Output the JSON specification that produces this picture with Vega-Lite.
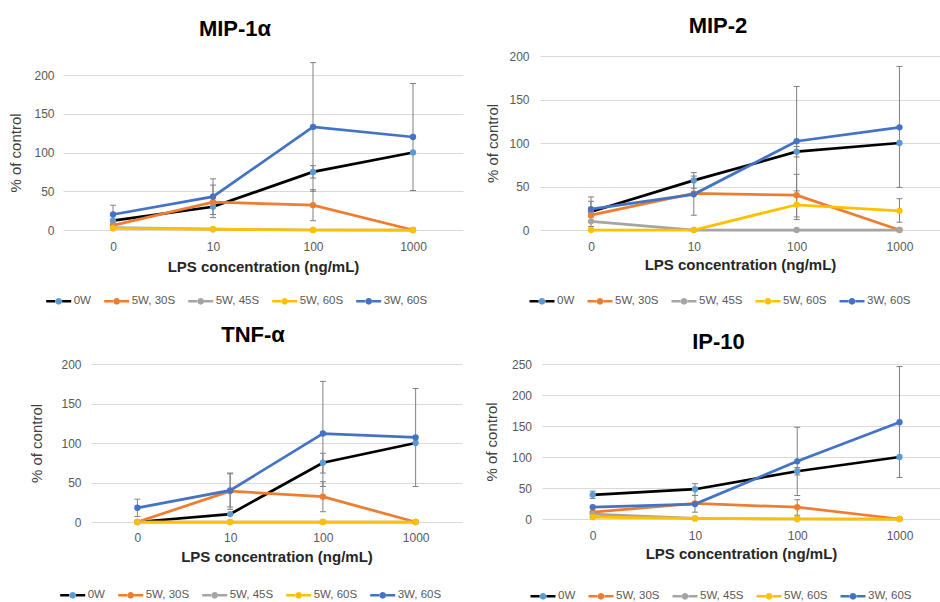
{
  "$schema": "https://vega.github.io/schema/vega-lite/v6.json",
  "padding": 0,
  "background": "white",
  "config": {
    "font": "Liberation Sans",
    "view": {"stroke": null},
    "title": {"font": "Liberation Sans", "fontSize": 22, "fontWeight": "bold", "color": "#000000", "anchor": "middle", "frame": "group"},
    "axis": {"labelFont": "Liberation Sans", "titleFont": "Liberation Sans", "labelFontSize": 12, "labelColor": "#595959", "ticks": false, "domain": false, "labelOverlap": false},
    "axisX": {"grid": false, "labelAngle": 0, "titleFontSize": 15, "titleFontWeight": "bold", "titleColor": "#262626"},
    "axisY": {"grid": true, "gridColor": "#d9d9d9", "gridWidth": 1, "titleFontSize": 15, "titleFontWeight": "normal", "titleColor": "#404040"},
    "legend": {"orient": "none", "direction": "horizontal", "padding": 0, "columnPadding": 7, "labelOffset": 1, "labelFont": "Liberation Sans", "labelFontSize": 11.5, "labelColor": "#595959", "symbolSize": 625, "symbolStrokeWidth": 2.5, "symbolOpacity": 1}
  },
  "datasets": {
    "cytokines": [
      {"panel": "MIP-1α", "dose": "0", "series": "0W", "value": 12},
      {"panel": "MIP-1α", "dose": "10", "series": "0W", "value": 30},
      {"panel": "MIP-1α", "dose": "100", "series": "0W", "value": 75, "lo": 67, "hi": 83},
      {"panel": "MIP-1α", "dose": "1000", "series": "0W", "value": 100},
      {"panel": "MIP-1α", "dose": "0", "series": "5W, 30S", "value": 6},
      {"panel": "MIP-1α", "dose": "10", "series": "5W, 30S", "value": 36, "lo": 16, "hi": 58},
      {"panel": "MIP-1α", "dose": "100", "series": "5W, 30S", "value": 32, "lo": 12, "hi": 52},
      {"panel": "MIP-1α", "dose": "1000", "series": "5W, 30S", "value": 0},
      {"panel": "MIP-1α", "dose": "0", "series": "5W, 45S", "value": 3},
      {"panel": "MIP-1α", "dose": "10", "series": "5W, 45S", "value": 1},
      {"panel": "MIP-1α", "dose": "100", "series": "5W, 45S", "value": 0},
      {"panel": "MIP-1α", "dose": "1000", "series": "5W, 45S", "value": 0},
      {"panel": "MIP-1α", "dose": "0", "series": "5W, 60S", "value": 2},
      {"panel": "MIP-1α", "dose": "10", "series": "5W, 60S", "value": 1},
      {"panel": "MIP-1α", "dose": "100", "series": "5W, 60S", "value": 0},
      {"panel": "MIP-1α", "dose": "1000", "series": "5W, 60S", "value": 0},
      {"panel": "MIP-1α", "dose": "0", "series": "3W, 60S", "value": 20, "lo": 8, "hi": 32},
      {"panel": "MIP-1α", "dose": "10", "series": "3W, 60S", "value": 43, "lo": 20, "hi": 66},
      {"panel": "MIP-1α", "dose": "100", "series": "3W, 60S", "value": 133, "lo": 50, "hi": 216},
      {"panel": "MIP-1α", "dose": "1000", "series": "3W, 60S", "value": 120, "lo": 51, "hi": 189},

      {"panel": "MIP-2", "dose": "0", "series": "0W", "value": 21, "lo": 4, "hi": 38},
      {"panel": "MIP-2", "dose": "10", "series": "0W", "value": 57, "lo": 48, "hi": 66},
      {"panel": "MIP-2", "dose": "100", "series": "0W", "value": 90, "lo": 84, "hi": 96},
      {"panel": "MIP-2", "dose": "1000", "series": "0W", "value": 100},
      {"panel": "MIP-2", "dose": "0", "series": "5W, 30S", "value": 17},
      {"panel": "MIP-2", "dose": "10", "series": "5W, 30S", "value": 42},
      {"panel": "MIP-2", "dose": "100", "series": "5W, 30S", "value": 40, "lo": 15, "hi": 64},
      {"panel": "MIP-2", "dose": "1000", "series": "5W, 30S", "value": 0},
      {"panel": "MIP-2", "dose": "0", "series": "5W, 45S", "value": 10},
      {"panel": "MIP-2", "dose": "10", "series": "5W, 45S", "value": 0},
      {"panel": "MIP-2", "dose": "100", "series": "5W, 45S", "value": 0},
      {"panel": "MIP-2", "dose": "1000", "series": "5W, 45S", "value": 0},
      {"panel": "MIP-2", "dose": "0", "series": "5W, 60S", "value": 0},
      {"panel": "MIP-2", "dose": "10", "series": "5W, 60S", "value": 0},
      {"panel": "MIP-2", "dose": "100", "series": "5W, 60S", "value": 29, "lo": 12, "hi": 45},
      {"panel": "MIP-2", "dose": "1000", "series": "5W, 60S", "value": 22, "lo": 9, "hi": 36},
      {"panel": "MIP-2", "dose": "0", "series": "3W, 60S", "value": 24, "lo": 15, "hi": 33},
      {"panel": "MIP-2", "dose": "10", "series": "3W, 60S", "value": 41, "lo": 17, "hi": 62},
      {"panel": "MIP-2", "dose": "100", "series": "3W, 60S", "value": 102, "lo": 40, "hi": 165},
      {"panel": "MIP-2", "dose": "1000", "series": "3W, 60S", "value": 118, "lo": 49, "hi": 188},

      {"panel": "TNF-α", "dose": "0", "series": "0W", "value": 0},
      {"panel": "TNF-α", "dose": "10", "series": "0W", "value": 10},
      {"panel": "TNF-α", "dose": "100", "series": "0W", "value": 75, "lo": 62, "hi": 87},
      {"panel": "TNF-α", "dose": "1000", "series": "0W", "value": 100},
      {"panel": "TNF-α", "dose": "0", "series": "5W, 30S", "value": 0},
      {"panel": "TNF-α", "dose": "10", "series": "5W, 30S", "value": 39, "lo": 16, "hi": 62},
      {"panel": "TNF-α", "dose": "100", "series": "5W, 30S", "value": 32, "lo": 13, "hi": 51},
      {"panel": "TNF-α", "dose": "1000", "series": "5W, 30S", "value": 0},
      {"panel": "TNF-α", "dose": "0", "series": "5W, 45S", "value": 0},
      {"panel": "TNF-α", "dose": "10", "series": "5W, 45S", "value": 0},
      {"panel": "TNF-α", "dose": "100", "series": "5W, 45S", "value": 0},
      {"panel": "TNF-α", "dose": "1000", "series": "5W, 45S", "value": 0},
      {"panel": "TNF-α", "dose": "0", "series": "5W, 60S", "value": 0},
      {"panel": "TNF-α", "dose": "10", "series": "5W, 60S", "value": 0},
      {"panel": "TNF-α", "dose": "100", "series": "5W, 60S", "value": 0},
      {"panel": "TNF-α", "dose": "1000", "series": "5W, 60S", "value": 0},
      {"panel": "TNF-α", "dose": "0", "series": "3W, 60S", "value": 18, "lo": 7, "hi": 29},
      {"panel": "TNF-α", "dose": "10", "series": "3W, 60S", "value": 40, "lo": 19, "hi": 61},
      {"panel": "TNF-α", "dose": "100", "series": "3W, 60S", "value": 112, "lo": 45, "hi": 178},
      {"panel": "TNF-α", "dose": "1000", "series": "3W, 60S", "value": 107, "lo": 45, "hi": 169},

      {"panel": "IP-10", "dose": "0", "series": "0W", "value": 39, "lo": 33, "hi": 45},
      {"panel": "IP-10", "dose": "10", "series": "0W", "value": 48, "lo": 38, "hi": 57},
      {"panel": "IP-10", "dose": "100", "series": "0W", "value": 77, "lo": 71, "hi": 83},
      {"panel": "IP-10", "dose": "1000", "series": "0W", "value": 100},
      {"panel": "IP-10", "dose": "0", "series": "5W, 30S", "value": 11},
      {"panel": "IP-10", "dose": "10", "series": "5W, 30S", "value": 25},
      {"panel": "IP-10", "dose": "100", "series": "5W, 30S", "value": 19, "lo": 6, "hi": 31},
      {"panel": "IP-10", "dose": "1000", "series": "5W, 30S", "value": 0},
      {"panel": "IP-10", "dose": "0", "series": "5W, 45S", "value": 8},
      {"panel": "IP-10", "dose": "10", "series": "5W, 45S", "value": 1},
      {"panel": "IP-10", "dose": "100", "series": "5W, 45S", "value": 0},
      {"panel": "IP-10", "dose": "1000", "series": "5W, 45S", "value": 0},
      {"panel": "IP-10", "dose": "0", "series": "5W, 60S", "value": 3},
      {"panel": "IP-10", "dose": "10", "series": "5W, 60S", "value": 1},
      {"panel": "IP-10", "dose": "100", "series": "5W, 60S", "value": 0},
      {"panel": "IP-10", "dose": "1000", "series": "5W, 60S", "value": 0},
      {"panel": "IP-10", "dose": "0", "series": "3W, 60S", "value": 19},
      {"panel": "IP-10", "dose": "10", "series": "3W, 60S", "value": 24, "lo": 11, "hi": 38},
      {"panel": "IP-10", "dose": "100", "series": "3W, 60S", "value": 93, "lo": 38, "hi": 148},
      {"panel": "IP-10", "dose": "1000", "series": "3W, 60S", "value": 156, "lo": 67, "hi": 246}
    ]
  },
  "data": {"name": "cytokines"},
  "spacing": 0,
  "resolve": {"scale": {"stroke": "independent", "fill": "independent"}},
  "vconcat": [
    {
      "spacing": 0,
      "resolve": {"scale": {"stroke": "independent", "fill": "independent"}},
      "hconcat": [
        {"width": 8, "height": 1, "data": {"values": []}, "mark": {"type": "point", "opacity": 0}},
        {
          "spacing": 0,
          "resolve": {"scale": {"stroke": "independent", "fill": "independent"}},
          "vconcat": [
            {"width": 1, "height": 17, "data": {"values": []}, "mark": {"type": "point", "opacity": 0}},
            {
              "width": 400,
              "height": 155,
              "title": {"text": "MIP-1α", "dx": -28, "offset": 21.2},
              "transform": [{"filter": {"field": "panel", "equal": "MIP-1α"}}],
              "encoding": {
                "x": {"field": "dose", "type": "ordinal", "sort": ["0", "10", "100", "1000"], "scale": {"type": "point", "padding": 0.5}, "axis": {"title": "LPS concentration (ng/mL)", "labelPadding": 11.5, "titlePadding": 6.7}}
              },
              "layer": [
                {
                  "mark": {"type": "line", "strokeWidth": 2.75},
                  "encoding": {
                    "y": {"field": "value", "type": "quantitative", "scale": {"domain": [0, 200], "nice": false}, "axis": {"title": "% of control", "values": [0, 50, 100, 150, 200], "labelPadding": 9, "titlePadding": 10}},
                    "stroke": {"field": "series", "type": "nominal", "scale": {"domain": ["0W", "5W, 30S", "5W, 45S", "5W, 60S", "3W, 60S"], "range": ["#000000", "#ED7D31", "#A5A5A5", "#FFC000", "#4472C4"]}, "legend": {"title": null, "orient": "none", "legendX": -18.3, "legendY": 212, "symbolType": "M-1,0H-0.27M0.27,0H1"}}
                  }
                },
                {
                  "mark": {"type": "rule", "color": "#808080", "strokeWidth": 1},
                  "encoding": {"y": {"field": "lo", "type": "quantitative", "scale": {"domain": [0, 200], "nice": false}, "axis": {"title": "% of control", "values": [0, 50, 100, 150, 200], "labelPadding": 9, "titlePadding": 10}}, "y2": {"field": "hi"}}
                },
                {
                  "mark": {"type": "tick", "color": "#808080", "size": 6, "thickness": 1, "opacity": 1},
                  "encoding": {"y": {"field": "lo", "type": "quantitative", "scale": {"domain": [0, 200], "nice": false}, "axis": {"title": "% of control", "values": [0, 50, 100, 150, 200], "labelPadding": 9, "titlePadding": 10}}}
                },
                {
                  "mark": {"type": "tick", "color": "#808080", "size": 6, "thickness": 1, "opacity": 1},
                  "encoding": {"y": {"field": "hi", "type": "quantitative", "scale": {"domain": [0, 200], "nice": false}, "axis": {"title": "% of control", "values": [0, 50, 100, 150, 200], "labelPadding": 9, "titlePadding": 10}}}
                },
                {
                  "mark": {"type": "point", "filled": true, "size": 40, "opacity": 1},
                  "encoding": {
                    "y": {"field": "value", "type": "quantitative", "scale": {"domain": [0, 200], "nice": false}, "axis": {"title": "% of control", "values": [0, 50, 100, 150, 200], "labelPadding": 9, "titlePadding": 10}},
                    "fill": {"field": "series", "type": "nominal", "sort": null, "scale": {"range": ["#5B9BD5", "#ED7D31", "#A5A5A5", "#FFC000", "#4472C4"]}, "legend": {"title": null, "orient": "none", "legendX": -18.3, "legendY": 212, "labelOpacity": 0, "symbolStrokeColor": "transparent", "symbolType": "M-1,0H1M0.27,0A0.27,0.27,0,1,1,-0.27,0A0.27,0.27,0,1,1,0.27,0Z"}}
                  }
                }
              ]
            }
          ]
        },
        {"width": 22, "height": 1, "data": {"values": []}, "mark": {"type": "point", "opacity": 0}},
        {
          "spacing": 0,
          "resolve": {"scale": {"stroke": "independent", "fill": "independent"}},
          "vconcat": [
            {"width": 1, "height": 14, "data": {"values": []}, "mark": {"type": "point", "opacity": 0}},
            {
              "width": 400,
              "height": 174,
              "title": {"text": "MIP-2", "dx": -22, "offset": 12.3},
              "transform": [{"filter": {"field": "panel", "equal": "MIP-2"}}],
              "encoding": {
                "x": {"field": "dose", "type": "ordinal", "sort": ["0", "10", "100", "1000"], "scale": {"type": "point", "padding": 0.445, "align": 0.557}, "axis": {"title": "LPS concentration (ng/mL)", "labelPadding": 11.5, "titlePadding": 5}}
              },
              "layer": [
                {
                  "mark": {"type": "line", "strokeWidth": 2.75},
                  "encoding": {
                    "y": {"field": "value", "type": "quantitative", "scale": {"domain": [0, 200], "nice": false}, "axis": {"title": "% of control", "values": [0, 50, 100, 150, 200], "labelPadding": 11, "titlePadding": 8}},
                    "stroke": {"field": "series", "type": "nominal", "scale": {"domain": ["0W", "5W, 30S", "5W, 45S", "5W, 60S", "3W, 60S"], "range": ["#000000", "#ED7D31", "#A5A5A5", "#FFC000", "#4472C4"]}, "legend": {"title": null, "orient": "none", "legendX": -12, "legendY": 231, "symbolType": "M-1,0H-0.27M0.27,0H1"}}
                  }
                },
                {
                  "mark": {"type": "rule", "color": "#808080", "strokeWidth": 1},
                  "encoding": {"y": {"field": "lo", "type": "quantitative", "scale": {"domain": [0, 200], "nice": false}, "axis": {"title": "% of control", "values": [0, 50, 100, 150, 200], "labelPadding": 11, "titlePadding": 8}}, "y2": {"field": "hi"}}
                },
                {
                  "mark": {"type": "tick", "color": "#808080", "size": 6, "thickness": 1, "opacity": 1},
                  "encoding": {"y": {"field": "lo", "type": "quantitative", "scale": {"domain": [0, 200], "nice": false}, "axis": {"title": "% of control", "values": [0, 50, 100, 150, 200], "labelPadding": 11, "titlePadding": 8}}}
                },
                {
                  "mark": {"type": "tick", "color": "#808080", "size": 6, "thickness": 1, "opacity": 1},
                  "encoding": {"y": {"field": "hi", "type": "quantitative", "scale": {"domain": [0, 200], "nice": false}, "axis": {"title": "% of control", "values": [0, 50, 100, 150, 200], "labelPadding": 11, "titlePadding": 8}}}
                },
                {
                  "mark": {"type": "point", "filled": true, "size": 40, "opacity": 1},
                  "encoding": {
                    "y": {"field": "value", "type": "quantitative", "scale": {"domain": [0, 200], "nice": false}, "axis": {"title": "% of control", "values": [0, 50, 100, 150, 200], "labelPadding": 11, "titlePadding": 8}},
                    "fill": {"field": "series", "type": "nominal", "sort": null, "scale": {"range": ["#5B9BD5", "#ED7D31", "#A5A5A5", "#FFC000", "#4472C4"]}, "legend": {"title": null, "orient": "none", "legendX": -12, "legendY": 231, "labelOpacity": 0, "symbolStrokeColor": "transparent", "symbolType": "M-1,0H1M0.27,0A0.27,0.27,0,1,1,-0.27,0A0.27,0.27,0,1,1,0.27,0Z"}}
                  }
                }
              ]
            }
          ]
        }
      ]
    },
    {"width": 1, "height": 3, "data": {"values": []}, "mark": {"type": "point", "opacity": 0}},
    {
      "spacing": 0,
      "resolve": {"scale": {"stroke": "independent", "fill": "independent"}},
      "hconcat": [
        {"width": 29, "height": 1, "data": {"values": []}, "mark": {"type": "point", "opacity": 0}},
        {
          "spacing": 0,
          "resolve": {"scale": {"stroke": "independent", "fill": "independent"}},
          "vconcat": [
            {"width": 1, "height": 10, "data": {"values": []}, "mark": {"type": "point", "opacity": 0}},
            {
              "width": 371,
              "height": 158,
              "title": {"text": "TNF-α", "dx": -23.5, "offset": 11.5},
              "transform": [{"filter": {"field": "panel", "equal": "TNF-α"}}],
              "encoding": {
                "x": {"field": "dose", "type": "ordinal", "sort": ["0", "10", "100", "1000"], "scale": {"type": "point", "padding": 0.5}, "axis": {"title": "LPS concentration (ng/mL)", "labelPadding": 10.8, "titlePadding": 5.4}}
              },
              "layer": [
                {
                  "mark": {"type": "line", "strokeWidth": 2.75},
                  "encoding": {
                    "y": {"field": "value", "type": "quantitative", "scale": {"domain": [0, 200], "nice": false}, "axis": {"title": "% of control", "values": [0, 50, 100, 150, 200], "labelPadding": 10, "titlePadding": 16.6}},
                    "stroke": {"field": "series", "type": "nominal", "scale": {"domain": ["0W", "5W, 30S", "5W, 45S", "5W, 60S", "3W, 60S"], "range": ["#000000", "#ED7D31", "#A5A5A5", "#FFC000", "#4472C4"]}, "legend": {"title": null, "orient": "none", "legendX": -32.3, "legendY": 217, "symbolType": "M-1,0H-0.27M0.27,0H1"}}
                  }
                },
                {
                  "mark": {"type": "rule", "color": "#808080", "strokeWidth": 1},
                  "encoding": {"y": {"field": "lo", "type": "quantitative", "scale": {"domain": [0, 200], "nice": false}, "axis": {"title": "% of control", "values": [0, 50, 100, 150, 200], "labelPadding": 10, "titlePadding": 16.6}}, "y2": {"field": "hi"}}
                },
                {
                  "mark": {"type": "tick", "color": "#808080", "size": 6, "thickness": 1, "opacity": 1},
                  "encoding": {"y": {"field": "lo", "type": "quantitative", "scale": {"domain": [0, 200], "nice": false}, "axis": {"title": "% of control", "values": [0, 50, 100, 150, 200], "labelPadding": 10, "titlePadding": 16.6}}}
                },
                {
                  "mark": {"type": "tick", "color": "#808080", "size": 6, "thickness": 1, "opacity": 1},
                  "encoding": {"y": {"field": "hi", "type": "quantitative", "scale": {"domain": [0, 200], "nice": false}, "axis": {"title": "% of control", "values": [0, 50, 100, 150, 200], "labelPadding": 10, "titlePadding": 16.6}}}
                },
                {
                  "mark": {"type": "point", "filled": true, "size": 40, "opacity": 1},
                  "encoding": {
                    "y": {"field": "value", "type": "quantitative", "scale": {"domain": [0, 200], "nice": false}, "axis": {"title": "% of control", "values": [0, 50, 100, 150, 200], "labelPadding": 10, "titlePadding": 16.6}},
                    "fill": {"field": "series", "type": "nominal", "sort": null, "scale": {"range": ["#5B9BD5", "#ED7D31", "#A5A5A5", "#FFC000", "#4472C4"]}, "legend": {"title": null, "orient": "none", "legendX": -32.3, "legendY": 217, "labelOpacity": 0, "symbolStrokeColor": "transparent", "symbolType": "M-1,0H1M0.27,0A0.27,0.27,0,1,1,-0.27,0A0.27,0.27,0,1,1,0.27,0Z"}}
                  }
                }
              ]
            }
          ]
        },
        {"width": 22, "height": 1, "data": {"values": []}, "mark": {"type": "point", "opacity": 0}},
        {
          "spacing": 0,
          "resolve": {"scale": {"stroke": "independent", "fill": "independent"}},
          "vconcat": [
            {"width": 1, "height": 17, "data": {"values": []}, "mark": {"type": "point", "opacity": 0}},
            {
              "width": 398,
              "height": 155,
              "title": {"text": "IP-10", "dx": -22.5, "offset": 4.4},
              "transform": [{"filter": {"field": "panel", "equal": "IP-10"}}],
              "encoding": {
                "x": {"field": "dose", "type": "ordinal", "sort": ["0", "10", "100", "1000"], "scale": {"type": "point", "padding": 0.446, "align": 0.556}, "axis": {"title": "LPS concentration (ng/mL)", "labelPadding": 11.5, "titlePadding": 4.7}}
              },
              "layer": [
                {
                  "mark": {"type": "line", "strokeWidth": 2.75},
                  "encoding": {
                    "y": {"field": "value", "type": "quantitative", "scale": {"domain": [0, 250], "nice": false}, "axis": {"title": "% of control", "values": [0, 50, 100, 150, 200, 250], "labelPadding": 10.5, "titlePadding": 12}},
                    "stroke": {"field": "series", "type": "nominal", "scale": {"domain": ["0W", "5W, 30S", "5W, 45S", "5W, 60S", "3W, 60S"], "range": ["#000000", "#ED7D31", "#A5A5A5", "#FFC000", "#4472C4"]}, "legend": {"title": null, "orient": "none", "legendX": -13, "legendY": 218, "symbolType": "M-1,0H-0.27M0.27,0H1"}}
                  }
                },
                {
                  "mark": {"type": "rule", "color": "#808080", "strokeWidth": 1},
                  "encoding": {"y": {"field": "lo", "type": "quantitative", "scale": {"domain": [0, 250], "nice": false}, "axis": {"title": "% of control", "values": [0, 50, 100, 150, 200, 250], "labelPadding": 10.5, "titlePadding": 12}}, "y2": {"field": "hi"}}
                },
                {
                  "mark": {"type": "tick", "color": "#808080", "size": 6, "thickness": 1, "opacity": 1},
                  "encoding": {"y": {"field": "lo", "type": "quantitative", "scale": {"domain": [0, 250], "nice": false}, "axis": {"title": "% of control", "values": [0, 50, 100, 150, 200, 250], "labelPadding": 10.5, "titlePadding": 12}}}
                },
                {
                  "mark": {"type": "tick", "color": "#808080", "size": 6, "thickness": 1, "opacity": 1},
                  "encoding": {"y": {"field": "hi", "type": "quantitative", "scale": {"domain": [0, 250], "nice": false}, "axis": {"title": "% of control", "values": [0, 50, 100, 150, 200, 250], "labelPadding": 10.5, "titlePadding": 12}}}
                },
                {
                  "mark": {"type": "point", "filled": true, "size": 40, "opacity": 1},
                  "encoding": {
                    "y": {"field": "value", "type": "quantitative", "scale": {"domain": [0, 250], "nice": false}, "axis": {"title": "% of control", "values": [0, 50, 100, 150, 200, 250], "labelPadding": 10.5, "titlePadding": 12}},
                    "fill": {"field": "series", "type": "nominal", "sort": null, "scale": {"range": ["#5B9BD5", "#ED7D31", "#A5A5A5", "#FFC000", "#4472C4"]}, "legend": {"title": null, "orient": "none", "legendX": -13, "legendY": 218, "labelOpacity": 0, "symbolStrokeColor": "transparent", "symbolType": "M-1,0H1M0.27,0A0.27,0.27,0,1,1,-0.27,0A0.27,0.27,0,1,1,0.27,0Z"}}
                  }
                }
              ]
            }
          ]
        }
      ]
    }
  ]
}
